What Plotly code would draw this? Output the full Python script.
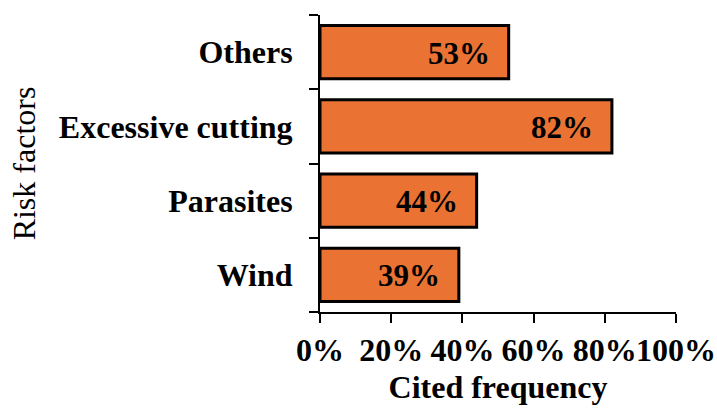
import plotly.graph_objects as go

# Risk factors and how often each was cited (percent)
factors = ["Wind", "Parasites", "Excessive cutting", "Others"]
frequency = [39, 44, 82, 53]
labels = [f"{v}%" for v in frequency]

serif = "Liberation Serif"
bar_color = "#EA7334"

fig = go.Figure(
    go.Bar(
        x=frequency,
        y=factors,
        orientation="h",
        marker=dict(color=bar_color, line=dict(color="black", width=3)),
        width=0.72,
        hoverinfo="skip",
    )
)

# Value labels inside each bar, right-aligned near its end
for f, v, t in zip(factors, frequency, labels):
    fig.add_annotation(
        x=v, y=f, text=f"<b>{t}</b>", showarrow=False,
        xanchor="right", xshift=-17, yshift=-1,
        font=dict(family=serif, size=31, color="black"),
    )

fig.update_layout(
    width=717, height=413,
    margin=dict(l=320, r=41, t=15, b=101, autoexpand=False),
    paper_bgcolor="white", plot_bgcolor="white",
    showlegend=False,
    font=dict(family=serif, color="black"),
)

fig.update_xaxes(
    range=[0, 100],
    tickvals=[0, 20, 40, 60, 80, 100],
    ticktext=["<b>0%</b>", "<b>20%</b>", "<b>40%</b>", "<b>60%</b>", "<b>80%</b>", "<b>100%</b>"],
    tickangle=0, ticklabeloverflow="allow",
    ticks="outside", ticklen=9, tickwidth=2, tickcolor="black",
    showline=True, linecolor="black", linewidth=2,
    showgrid=False, zeroline=False, automargin=False,
    tickfont=dict(family=serif, size=32, color="black"),
    title=dict(text="<b>Cited frequency</b>", font=dict(family=serif, size=32, color="black"), standoff=8),
)

fig.update_yaxes(
    categoryorder="array", categoryarray=factors,
    tickvals=factors,
    ticktext=[f"<b>{f}</b>" for f in factors],
    tickson="boundaries", ticklabeloverflow="allow",
    ticks="outside", ticklen=9, tickwidth=2, tickcolor="black",
    showline=True, linecolor="black", linewidth=2,
    showgrid=False, zeroline=False, automargin=False,
    ticklabelstandoff=19,
    tickfont=dict(family=serif, size=32, color="black"),
    title=dict(text="Risk factors", font=dict(family=serif, size=32, color="black"), standoff=14),
)

fig.write_html("out.html")
